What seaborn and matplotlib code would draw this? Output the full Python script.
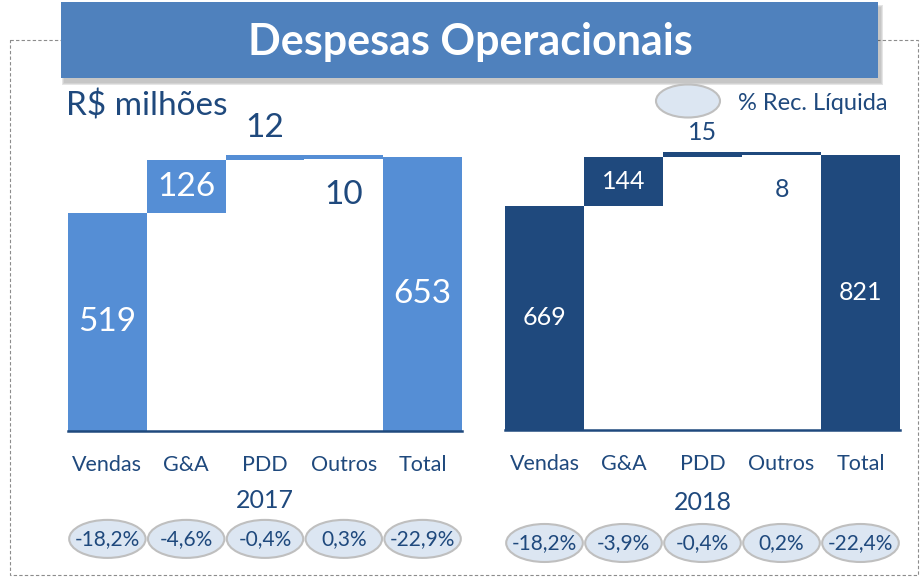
import numpy as np
import pandas as pd
import matplotlib
matplotlib.use('Agg')
import matplotlib.pyplot as plt
from matplotlib.patches import Rectangle, Ellipse
import seaborn as sns

# Data
categories = ['Vendas', 'G&A', 'PDD', 'Outros', 'Total']
values_2017 = [519, 126, 12, -10, 653]
values_2018 = [669, 144, 15, -8, 821]
pct_2017 = ['-18,2%', '-4,6%', '-0,4%', '0,3%', '-22,9%']
pct_2018 = ['-18,2%', '-3,9%', '-0,4%', '0,2%', '-22,4%']
years = ['2017', '2018']

sns.set_style('white')
plt.rcParams['font.family'] = ['Lato', 'DejaVu Sans']

dark = '#1F497D'
light_bar = '#558ED5'
navy_bar = '#1F497D'


def waterfall(values):
    # base and top of each floating bar
    bases, tops = [], []
    run = 0
    for i, v in enumerate(values):
        if i == 0 or i == len(values) - 1:
            bases.append(0)
            tops.append(v)
            run = v
        else:
            lo, hi = sorted([run, run + v])
            bases.append(lo)
            tops.append(hi)
            run = run + v
    return bases, tops


fig = plt.figure(figsize=(9.24, 5.77), dpi=100)

# decoration layer in pixel coordinates
deco = fig.add_axes([0, 0, 1, 1])
deco.set_xlim(0, 924)
deco.set_ylim(577, 0)
deco.axis('off')
deco.add_patch(Rectangle((10, 40), 908, 535, fill=False, ls=(0, (3, 2)),
                         ec='#8C8C8C', lw=0.8))
for k, a in enumerate([0.06, 0.08, 0.1]):
    deco.add_patch(Rectangle((61 + 3 - k, 4 + 3 - k), 817 + 2 * k, 76 + 2 * k,
                             fc='black', ec='none', alpha=a))
deco.add_patch(Rectangle((61, 2), 817, 76, fc='#4F81BD', ec='none'))
deco.text(470, 42, 'Despesas Operacionais', color='white', fontsize=31,
          fontweight='bold', ha='center', va='center')
deco.text(66, 106, 'R$ milhões', color=dark, fontsize=24, ha='left', va='center')
deco.add_patch(Ellipse((688, 101), 64, 33, fc='#DCE6F2', ec='#BFBFBF', lw=1.5))
deco.text(738, 103, '% Rec. Líquida', color=dark, fontsize=17, ha='left', va='center')

panels = [
    dict(vals=values_2017, pct=pct_2017, color=light_bar, rect=[68 / 924, 146 / 577, 394 / 924, 294 / 577],
         ymax=700, fs=24, up=9, down=-26, pct_y=-0.367, year_y=-0.235),
    dict(vals=values_2018, pct=pct_2018, color=navy_bar, rect=[505 / 924, 147 / 577, 395 / 924, 295 / 577],
         ymax=880, fs=18, up=6, down=-25, pct_y=-0.383, year_y=-0.245),
]

for p, year in zip(panels, years):
    ax = fig.add_axes(p['rect'])
    ax.set_facecolor('none')
    bases, tops = waterfall(p['vals'])
    sns.barplot(x=categories, y=tops, color=p['color'], width=1, saturation=1,
                linewidth=0, ax=ax)
    sns.barplot(x=categories, y=bases, color='white', width=1, saturation=1,
                linewidth=0, ax=ax)
    ax.set_ylim(0, p['ymax'])
    ax.set_xlim(-0.5, 4.5)
    ax.set_yticks([])
    sns.despine(ax=ax, left=True)
    ax.spines['bottom'].set_color(dark)
    ax.spines['bottom'].set_linewidth(1.8)
    ax.tick_params(axis='x', length=0, pad=17, labelsize=15.5, labelcolor=dark)

    n = len(categories)
    for i, v in enumerate(p['vals']):
        lbl = str(abs(v))
        if i in (0, 1, n - 1):
            ax.text(i, (bases[i] + tops[i]) / 2, lbl, color='white', fontsize=p['fs'],
                    ha='center', va='center')
        elif v >= 0:
            ax.annotate(lbl, (i, tops[i]), xytext=(0, p['up']), textcoords='offset points',
                        color=dark, fontsize=p['fs'], ha='center', va='bottom',
                        annotation_clip=False)
        else:
            ax.annotate(lbl, (i, bases[i]), xytext=(0, p['down']), textcoords='offset points',
                        color=dark, fontsize=p['fs'], ha='center', va='center',
                        annotation_clip=False)

    ax.text(2, p['year_y'], year, transform=ax.get_xaxis_transform(), color=dark,
            fontsize=18, ha='center', va='center')

    h_px = p['rect'][3] * 577
    for i, t in enumerate(p['pct']):
        ax.add_patch(Ellipse((i, p['pct_y']), 0.97, 38 / h_px, transform=ax.get_xaxis_transform(),
                             fc='#DCE6F2', ec='#BFBFBF', lw=1.5, clip_on=False))
        ax.text(i, p['pct_y'], t, transform=ax.get_xaxis_transform(), color=dark,
                fontsize=15, ha='center', va='center')

fig.savefig('out.png', dpi=100)
